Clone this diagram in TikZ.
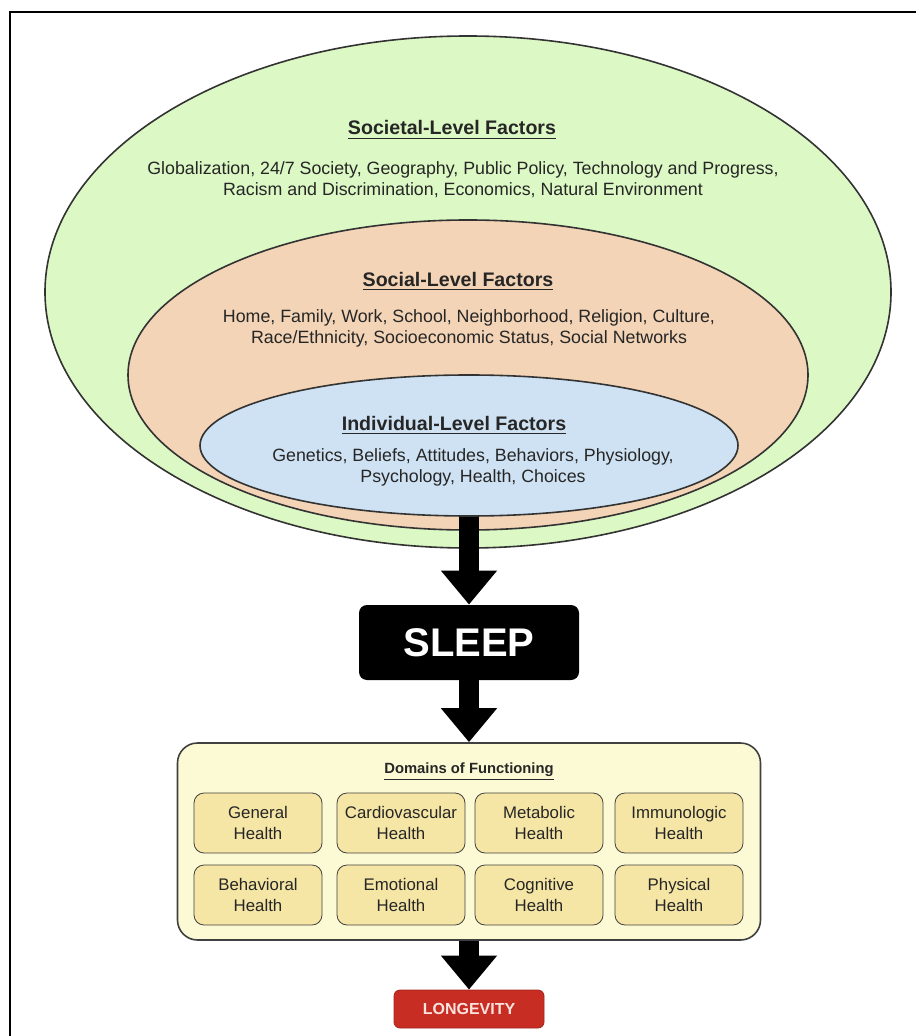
\documentclass[tikz,border=0pt]{standalone}
\usepackage{fontspec}
\setmainfont{Liberation Sans}
\usetikzlibrary{shapes.geometric,arrows.meta}

\definecolor{societal}{RGB}{220,248,196}
\definecolor{social}{RGB}{243,212,182}
\definecolor{individual}{RGB}{207,226,243}
\definecolor{domainback}{RGB}{252,250,212}
\definecolor{domainfill}{RGB}{245,230,165}
\definecolor{longred}{RGB}{200,45,35}
\definecolor{longtext}{RGB}{252,228,222}

\begin{document}
\begin{tikzpicture}[
  x=0.5pt, y=-0.5pt,
  layer/.style={ellipse, draw=black!80, thick, inner sep=0pt},
  heading/.style={font=\bfseries\fontsize{9.8}{11}\selectfont, text=black!85},
  factors/.style={align=center, font=\fontsize{8.9}{10.5}\selectfont, text=black!85},
  healthbox/.style={rectangle, draw=black!75, rounded corners=5pt, fill=domainfill, minimum width=64pt, minimum height=30pt, align=center, font=\fontsize{8.4}{10.5}\selectfont, text=black!85},
  bigarrow/.style={-{Triangle[length=17pt, width=27pt]}, line width=10pt, draw=black},
]
\useasboundingbox (0,0) rectangle (916,1036);
\draw[line width=1pt] (916,12) -- (10,12) -- (10,1036);

% === NESTED LEVELS OF FACTORS ===
\node[layer, fill=societal, minimum width=423pt, minimum height=256pt] (societal) at (468,292) {};
\node[layer, fill=social, minimum width=340pt, minimum height=155pt] (social) at (468,375) {};
\node[layer, fill=individual, minimum width=269pt, minimum height=70.5pt] (indiv) at (469,445.5) {};

\node[heading] (societalhead) at (452,130) {\underline{Societal-Level Factors}};
\node[factors] (societaltext) at (463,180) {Globalization, 24/7 Society, Geography, Public Policy, Technology and Progress,\\
Racism and Discrimination, Economics, Natural Environment};

\node[heading] (socialhead) at (458,281) {\underline{Social-Level Factors}};
\node[factors] (socialtext) at (469,328.5) {Home, Family, Work, School, Neighborhood, Religion, Culture,\\
Race/Ethnicity, Socioeconomic Status, Social Networks};

\node[heading] (indivhead) at (454,425) {\underline{Individual-Level Factors}};
\node[factors] (indivtext) at (473,467) {Genetics, Beliefs, Attitudes, Behaviors, Physiology,\\
Psychology, Health, Choices};

% === SLEEP ===
\node[rectangle, fill=black, rounded corners=4pt, minimum width=110pt, minimum height=37.5pt, text=white, font=\bfseries\fontsize{20}{24}\selectfont] (sleep) at (469,642.5) {SLEEP};

% === DOMAINS OF FUNCTIONING ===
\node[rectangle, draw=black!75, thick, fill=domainback, rounded corners=10pt, minimum width=291.5pt, minimum height=98.5pt] (domains) at (469,841.5) {};
\node[font=\bfseries\fontsize{7.4}{9}\selectfont, text=black!85] (domainshead) at (469,772) {\underline{Domains of Functioning}};

\node[healthbox] (general) at (258,823) {General\\Health};
\node[healthbox] (cardio) at (401,823) {Cardiovascular\\Health};
\node[healthbox] (metabolic) at (539,823) {Metabolic\\Health};
\node[healthbox] (immuno) at (679,823) {Immunologic\\Health};
\node[healthbox] (behavioral) at (258,895) {Behavioral\\Health};
\node[healthbox] (emotional) at (401,895) {Emotional\\Health};
\node[healthbox] (cognitive) at (539,895) {Cognitive\\Health};
\node[healthbox] (physical) at (679,895) {Physical\\Health};

% === LONGEVITY ===
\node[rectangle, draw=longred!80!black, fill=longred, rounded corners=3pt, minimum width=75pt, minimum height=19pt, text=longtext, font=\bfseries\fontsize{8}{10}\selectfont] (longevity) at (469,1009) {LONGEVITY};

\draw[bigarrow] (indiv.south) -- (sleep.north);
\draw[bigarrow] (sleep.south) -- (domains.north);
\draw[bigarrow] (domains.south) -- (longevity.north);
\end{tikzpicture}
\end{document}
